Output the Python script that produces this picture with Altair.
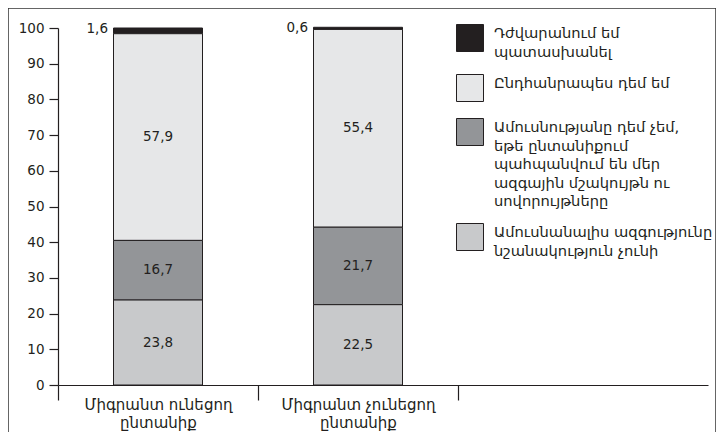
import altair as alt
import pandas as pd

# categories (x), with line break for the axis label
categories = ["Միգրանտ ունեցող\nընտանիք", "Միգրանտ չունեցող\nընտանիք"]

# series, in legend order (top of stack first)
series = [
    "Դժվարանում եմ\nպատասխանել",
    "Ընդհանրապես դեմ եմ",
    "Ամուսնությանը դեմ չեմ,\nեթե ընտանիքում\nպահպանվում են մեր\nազգային մշակույթն ու\nսովորույթները",
    "Ամուսնանալիս ազգությունը\nնշանակություն չունի",
]
colors = ["#231f20", "#e6e7e8", "#939598", "#c8c9cb"]

# values per series, for each category
hard_to_answer = [1.6, 0.6]
generally_against = [57.9, 55.4]
not_against_if = [16.7, 21.7]
no_importance = [23.8, 22.5]

# stacking order (1 = bottom)
stack_order = [4, 3, 2, 1]

values = [hard_to_answer, generally_against, not_against_if, no_importance]
rows = []
for s, vals, o in zip(series, values, stack_order):
    for c, v in zip(categories, vals):
        rows.append({"cat": c, "series": s, "value": v, "ord": o})
df = pd.DataFrame(rows)

FONT = "DejaVu Sans"
INK = "#231f20"
FS = 13.5      # numbers
FS_ARM = 15.0  # Armenian axis text
FS_LEG = 14.7  # Armenian legend text

W, H = 708, 424

xscale = alt.Scale(domain=categories, range=[50, 700], paddingInner=0,
                   paddingOuter=0.625, align=0)
yscale = alt.Scale(domain=[0, 100], range=[377, 20], nice=False)

xaxis = alt.Axis(title=None, tickBand="extent", tickSize=15, tickColor=INK,
                 tickWidth=1.2, domainColor=INK, domainWidth=1.2,
                 labelExpr="split(datum.label, '\\n')", labelFont=FONT,
                 labelFontSize=FS_ARM, labelColor=INK, labelLineHeight=18.5,
                 labelPadding=-3, labelAngle=0, offset=-(H - 377), grid=False)
yaxis = alt.Axis(title=None, values=list(range(0, 101, 10)), offset=-50,
                 tickSize=9, tickColor=INK, tickWidth=1.2, domainColor=INK,
                 domainWidth=1.2, labelFont=FONT, labelFontSize=FS,
                 labelColor=INK, labelPadding=5, grid=False)

legend = alt.Legend(title=None, orient="none", legendX=448, legendY=16,
                    padding=0, symbolType="square", symbolSize=729,
                    symbolStrokeColor=INK, symbolStrokeWidth=1,
                    symbolOpacity=1, labelFont=FONT, labelFontSize=FS_LEG,
                    labelColor=INK, labelExpr="split(datum.label, '\\n')",
                    labelBaseline="alphabetic", labelOffset=10,
                    labelLimit=400, rowPadding=12)

base = alt.Chart(df).transform_stack(
    stack="value", groupby=["cat"], as_=["y0", "y1"],
    sort=[alt.SortField("ord", order="ascending")], offset="zero"
).transform_calculate(
    mid="(datum.y0 + datum.y1) / 2",
    label="replace(format(datum.value, '.1f'), '.', ',')",
)

bars = base.mark_bar(size=89, stroke=INK, strokeWidth=1).encode(
    x=alt.X("cat:N", scale=xscale, axis=xaxis, sort=categories),
    y=alt.Y("y0:Q", scale=yscale, axis=yaxis),
    y2="y1:Q",
    color=alt.Color("series:N", scale=alt.Scale(domain=series, range=colors),
                    legend=legend),
)

inner = base.transform_filter(
    alt.datum.ord < 4
).mark_text(font=FONT, fontSize=FS, color=INK).encode(
    x=alt.X("cat:N", scale=xscale, axis=xaxis, sort=categories),
    y=alt.Y("mid:Q", scale=yscale, axis=yaxis),
    text="label:N",
)

top = base.transform_filter(
    alt.datum.ord == 4
).mark_text(font=FONT, fontSize=FS, color=INK, align="right", dx=-50, dy=1).encode(
    x=alt.X("cat:N", scale=xscale, axis=xaxis, sort=categories),
    y=alt.Y("y1:Q", scale=yscale, axis=yaxis),
    text="label:N",
)

chart = alt.layer(bars, inner, top).properties(
    width=W, height=H, background="white", padding=0,
    autosize=alt.AutoSizeParams(type="none"),
).configure(
    style={"guide-label": {"lineHeight": 18.5}}
).configure_view(
    # frame on top, right and left sides only (the bottom runs off the page)
    stroke="#333333", strokeWidth=1.5, strokeDash=[W + H, W, H + 20]
)

chart.save("out.html", embed_options={"renderer": "svg", "actions": False})
